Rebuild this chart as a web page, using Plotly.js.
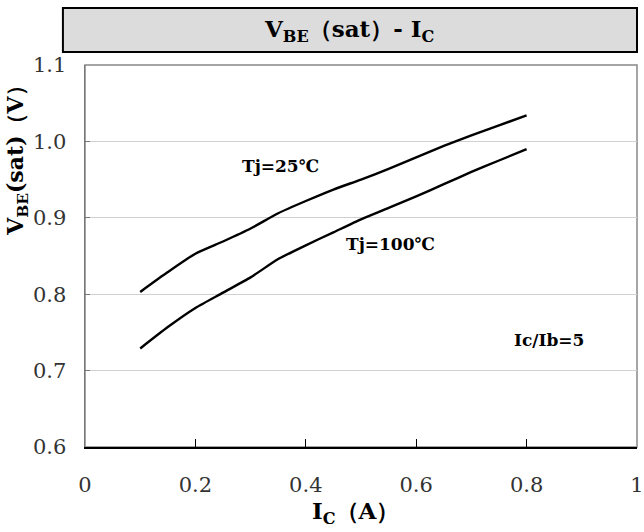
<!DOCTYPE html>
<html>
<head>
<meta charset="utf-8">
<script src="https://cdn.plot.ly/plotly-3.0.1.min.js"></script>
<style>html,body{margin:0;padding:0;background:#fff;}#chart{width:644px;height:532px;}</style>
</head>
<body>
<div id="chart"></div>
<script>
const icA = [0.1, 0.15, 0.2, 0.25, 0.3, 0.35, 0.4, 0.45, 0.5, 0.55, 0.6, 0.65, 0.7, 0.75, 0.8];
const vbe25 = [0.803, 0.829, 0.853, 0.869, 0.886, 0.906, 0.922, 0.937, 0.950, 0.964, 0.979, 0.994, 1.008, 1.021, 1.034];
const vbe100 = [0.729, 0.757, 0.782, 0.802, 0.822, 0.846, 0.864, 0.881, 0.898, 0.913, 0.928, 0.944, 0.960, 0.975, 0.990];
const xTickVals = [0, 0.2, 0.4, 0.6, 0.8, 1];
const xTickText = ["0", "0.2", "0.4", "0.6", "0.8", "1"];
const yTickVals = [0.6, 0.7, 0.8, 0.9, 1.0, 1.1];
const yTickText = ["0.6", "0.7", "0.8", "0.9", "1.0", "1.1"];

const serif = "DejaVu Serif";
const lineStyle = {color: "#000", width: 2.4, shape: "spline", smoothing: 0.6};

const traces = [
  {x: icA, y: vbe25, mode: "lines", line: lineStyle, name: "Tj=25℃", hoverinfo: "x+y"},
  {x: icA, y: vbe100, mode: "lines", line: lineStyle, name: "Tj=100℃", hoverinfo: "x+y"}
];

function ann(text, xref, yref, x, y, size, extra) {
  return Object.assign({text: text, xref: xref, yref: yref, x: x, y: y, showarrow: false,
    xanchor: "center", yanchor: "middle", font: {family: serif, size: size, color: "#000"}}, extra || {});
}

const layout = {
  width: 644, height: 532,
  margin: {l: 85, r: 7, t: 65, b: 85},
  paper_bgcolor: "#fff", plot_bgcolor: "#fff",
  showlegend: false,
  font: {family: serif, color: "#000"},
  xaxis: {
    range: [0, 1], tickvals: xTickVals, ticktext: xTickText,
    showgrid: false, zeroline: false,
    showline: true, linecolor: "#000", linewidth: 1.5,
    ticks: "inside", ticklen: 8, tickcolor: "#000", tickwidth: 1,
    ticklabelstandoff: 18,
    tickfont: {family: serif, size: 21, color: "#333"}
  },
  yaxis: {
    range: [0.6, 1.1], tickvals: yTickVals, ticktext: yTickText,
    showgrid: true, gridcolor: "#d0d0d0", gridwidth: 1.2, zeroline: false,
    showline: true, linecolor: "#777", linewidth: 1.5,
    ticks: "inside", ticklen: 5, tickcolor: "#777",
    ticklabelstandoff: 13,
    tickfont: {family: serif, size: 21, color: "#333"}
  },
  shapes: [
    {type: "rect", xref: "paper", yref: "paper", x0: 0, x1: 1, y0: 0, y1: 1,
     line: {color: "#888", width: 1.5}, layer: "below"},
    {type: "rect", xref: "paper", yref: "paper",
     x0: -0.04, x1: 1.0, y0: 1.034, y1: 1.149,
     fillcolor: "#dcdcdc", line: {color: "#000", width: 2}}
  ],
  annotations: [
    ann("<b>V<sub>BE</sub>（sat）- I<sub>C</sub></b>", "paper", "paper", 0.478, 1.09, 23),
    ann("<b>V<sub>BE</sub>(sat)（V）</b>", "paper", "paper", -0.123, 0.765, 22, {textangle: -90}),
    ann("<b>I<sub>C</sub>（A）</b>", "paper", "paper", 0.49, -0.172, 23),
    ann("<b>Tj=25℃</b>", "x", "y", 0.355, 0.968, 17),
    ann("<b>Tj=100℃</b>", "x", "y", 0.554, 0.866, 17),
    ann("<b>Ic/Ib=5</b>", "x", "y", 0.841, 0.740, 17)
  ]
};

Plotly.newPlot("chart", traces, layout, {displayModeBar: false, staticPlot: true});
</script>
</body>
</html>
